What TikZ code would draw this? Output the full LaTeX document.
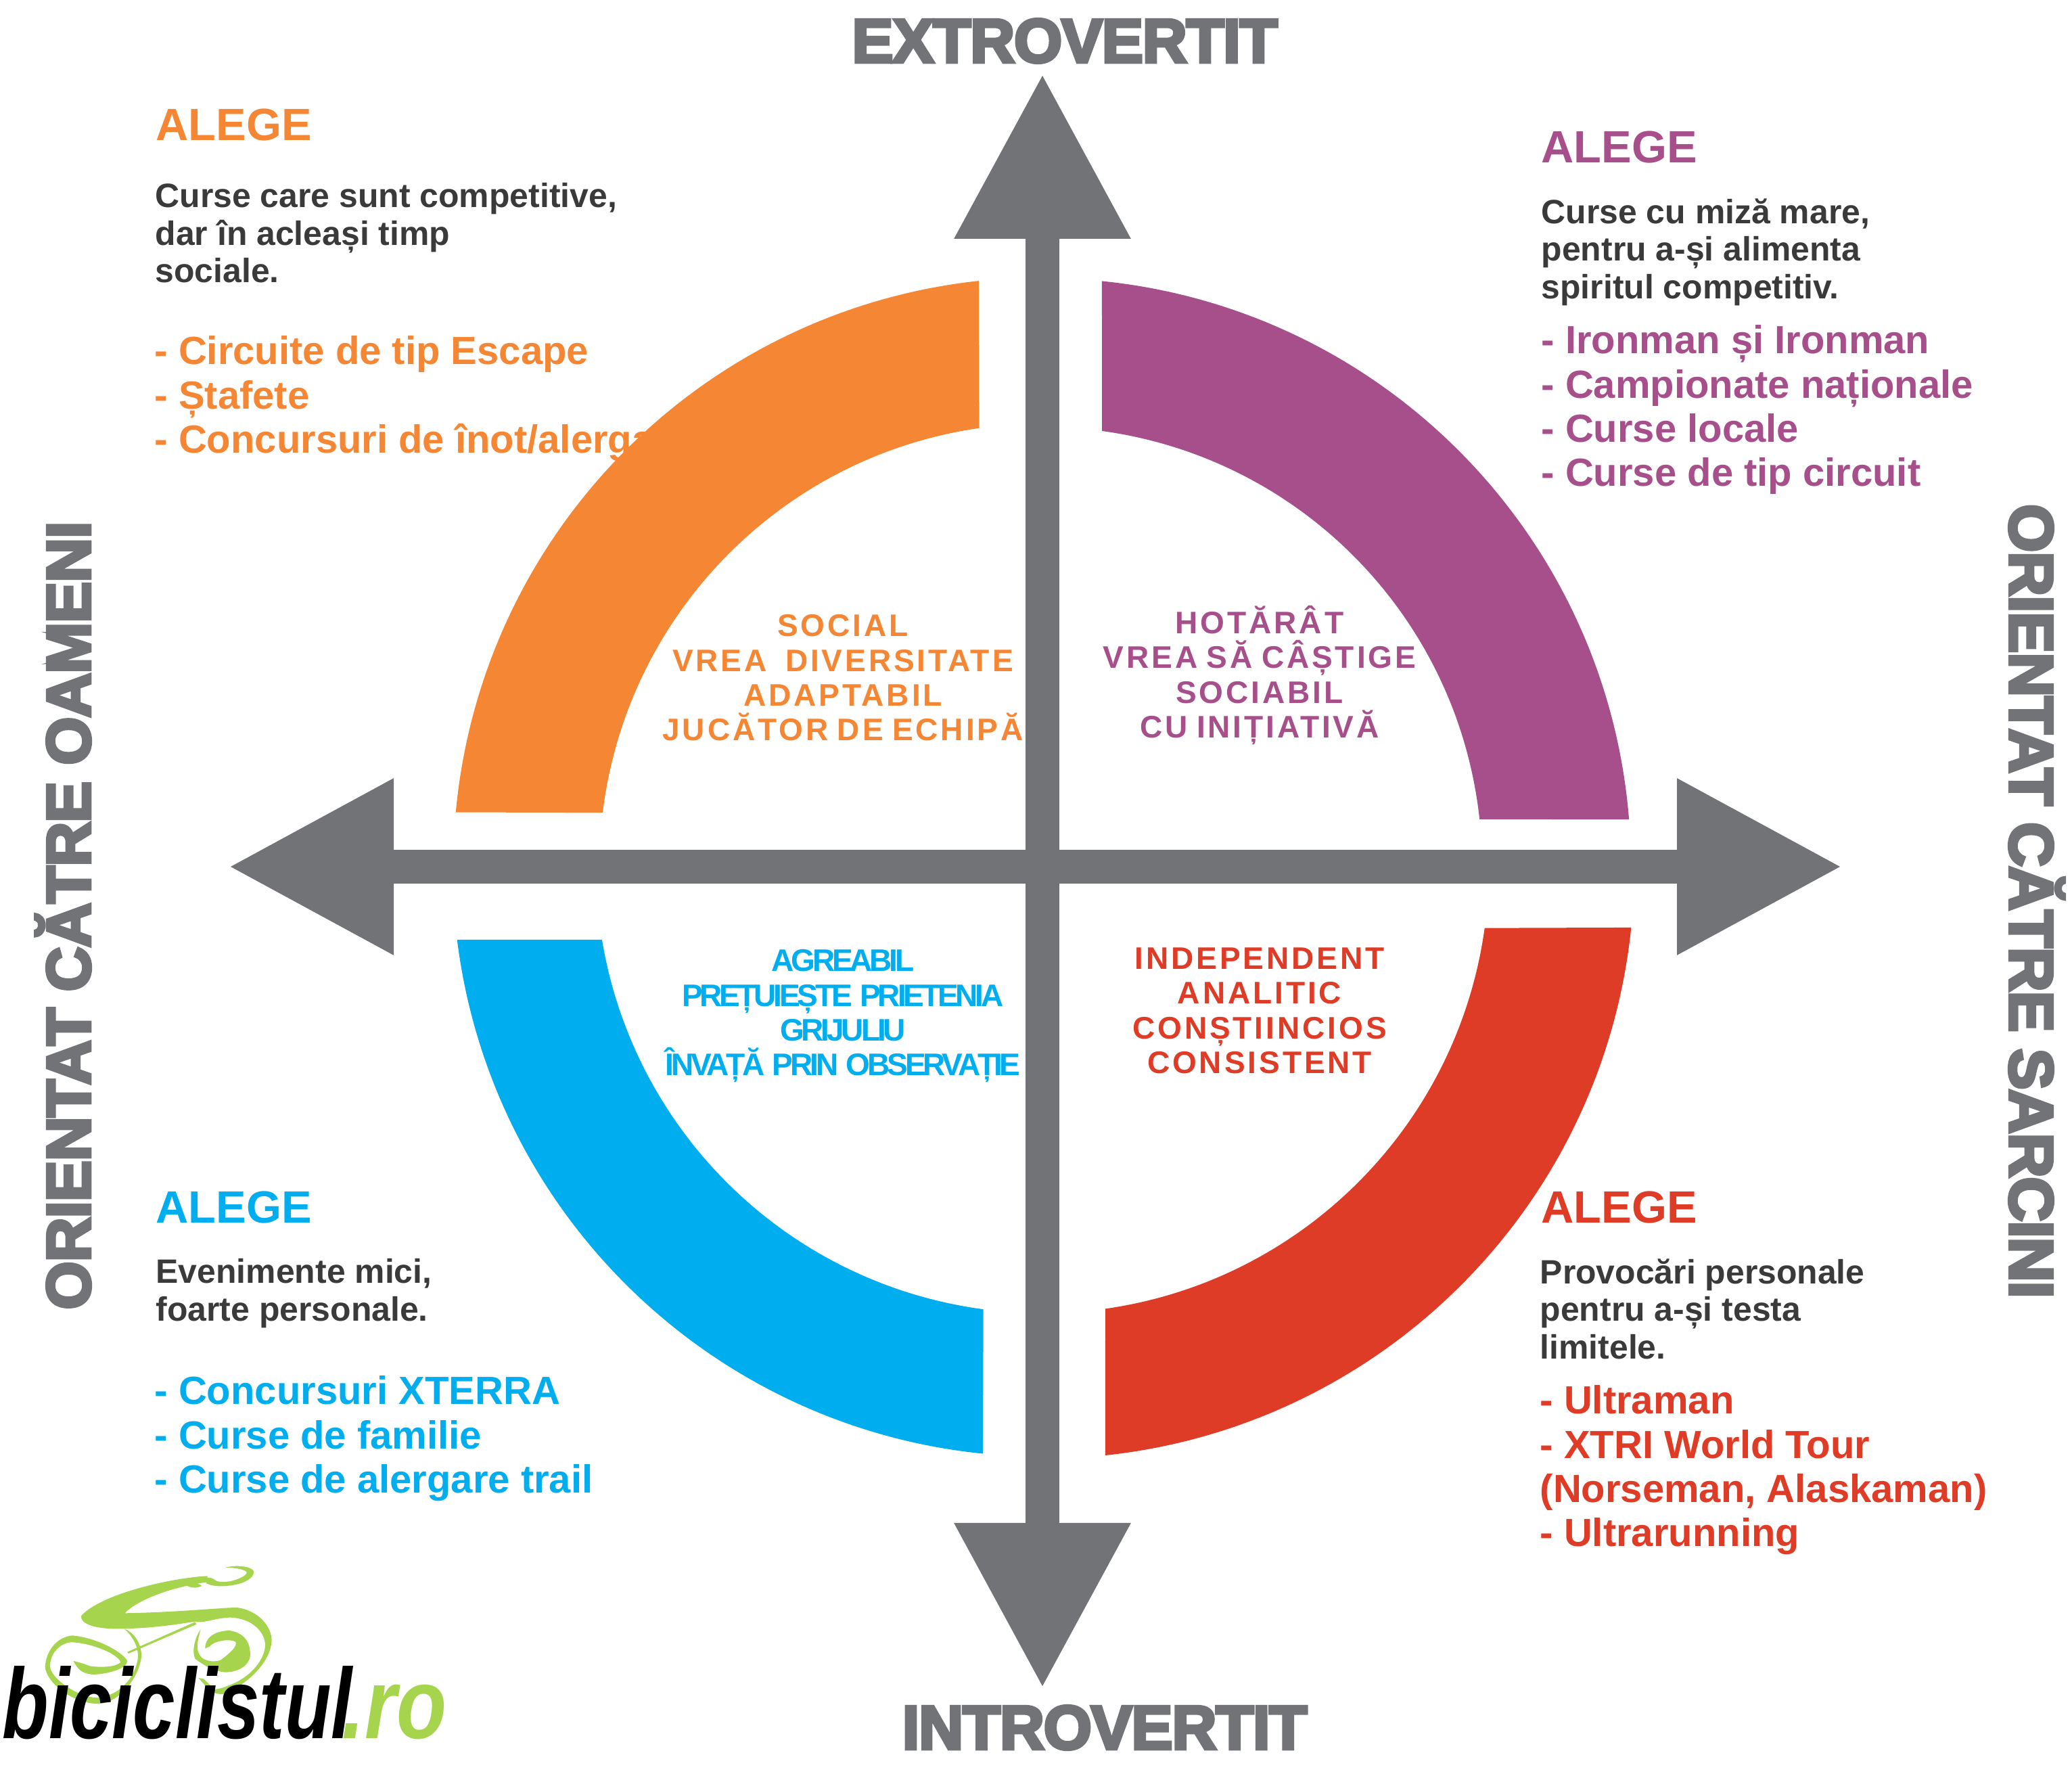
\documentclass[tikz,border=0pt]{standalone}
\usepackage{fontspec}
\setmainfont{Liberation Sans}
\newfontfamily\heavyfont{Liberation Sans Bold}[FakeBold=5,LetterSpace=-1.2]
\newfontfamily\spreadfont{Liberation Sans Bold}[LetterSpace=8.5,WordSpace=0.8]
\newfontfamily\tightfont{Liberation Sans Bold}[LetterSpace=-9,WordSpace=1.3]
\usetikzlibrary{arrows.meta,calc}
\definecolor{axisgray}{HTML}{717376}
\definecolor{bodygray}{HTML}{3A3A3A}
\definecolor{socialorange}{HTML}{F58634}
\definecolor{drivepurple}{HTML}{A64F8B}
\definecolor{careblue}{HTML}{00AEEF}
\definecolor{taskred}{HTML}{DE3C27}
\definecolor{logogreen}{HTML}{A6D44D}
\tikzset{
  axisline/.style={axisgray, line width=0.5cm, {Triangle[length=2.44cm,width=2.47cm]}-{Triangle[length=2.44cm,width=2.47cm]}},
  axislabel/.style={axisgray, inner sep=0pt, font=\heavyfont\fontsize{26}{30}\selectfont},
  alegehead/.style={anchor=north west, inner sep=0pt, font=\bfseries\fontsize{19}{22}\selectfont},
  bodytext/.style={anchor=north west, inner sep=0pt, align=left, text=bodygray, font=\bfseries\fontsize{14.2}{15.8}\selectfont},
  listtext/.style={anchor=north west, inner sep=0pt, align=left, font=\bfseries\fontsize{16.5}{18.6}\selectfont},
  traitspread/.style={inner sep=0pt, align=center, font=\spreadfont\fontsize{13.1}{14.6}\selectfont},
  traittight/.style={inner sep=0pt, align=center, font=\tightfont\fontsize{13.1}{14.6}\selectfont}
}
\begin{document}
\begin{tikzpicture}
    \useasboundingbox (0,0) rectangle (30.63,26.21);

    % Axis end points
    \coordinate (center) at (15.41,13.40);
    \coordinate (tipN) at (15.41,25.12);
    \coordinate (tipS) at (15.41,1.26);
    \coordinate (tipW) at (3.38,13.40);
    \coordinate (tipE) at (27.23,13.40);

    % Orange corner (the band lies over the end of the last line)
    \node[alegehead, text=socialorange] (headO) at (2.30,24.61) {ALEGE};
    \node[bodytext] (bodyO) at (2.29,23.51) {Curse care sunt competitive,\\dar în acleași timp\\sociale.};
    \node[listtext, text=socialorange] (listO) at (2.28,21.25) {- Circuite de tip Escape\\- Ștafete\\- Concursuri de înot/alergare};

    % Purple corner
    \node[alegehead, text=drivepurple] (headP) at (22.78,24.28) {ALEGE};
    \node[bodytext] (bodyP) at (22.78,23.28) {Curse cu miză mare,\\pentru a-și alimenta\\spiritul competitiv.};
    \node[listtext, text=drivepurple] (listP) at (22.78,21.41) {- Ironman și Ironman\\- Campionate naționale\\- Curse locale\\- Curse de tip circuit};

    % Blue corner
    \node[alegehead, text=careblue] (headB) at (2.30,8.61) {ALEGE};
    \node[bodytext] (bodyB) at (2.30,7.61) {Evenimente mici,\\foarte personale.};
    \node[listtext, text=careblue] (listB) at (2.28,5.88) {- Concursuri XTERRA\\- Curse de familie\\- Curse de alergare trail};

    % Red corner
    \node[alegehead, text=taskred] (headR) at (22.78,8.61) {ALEGE};
    \node[bodytext] (bodyR) at (22.76,7.61) {Provocări personale\\pentru a-și testa\\limitele.};
    \node[listtext, text=taskred] (listR) at (22.76,5.74) {- Ultraman\\- XTRI World Tour\\(Norseman, Alaskaman)\\- Ultrarunning};

    % Bands: colour/outer radius/outer start/outer end/inner radius/inner start/inner end
    \foreach \col/\Rout/\aOut/\bOut/\Rin/\aIn/\bIn in {
      socialorange/8.71/96.2/174.7/6.55/173/98.2,
      drivepurple/8.70/84.2/4.6/6.50/6.2/82.2,
      careblue/8.72/187.1/264.2/6.60/262.4/189.4,
      taskred/8.75/-5.9/-83.9/6.60/-81.9/-7.9} 
      {
      \fill[\col] ($(center)+(\aOut:\Rout)$) arc[start angle=\aOut, end angle=\bOut, radius=\Rout]
        -- ($(center)+(\aIn:\Rin)$) arc[start angle=\aIn, end angle=\bIn, radius=\Rin] -- cycle;
    }

    % Axes
    \draw[axisline] (tipW) -- (tipE);
    \draw[axisline] (tipS) -- (tipN);

    % Axis labels
    \node[axislabel, anchor=base] (labelN) at (15.74,25.29) {EXTROVERTIT};
    \node[axislabel, anchor=base] (labelS) at (16.33,0.36) {INTROVERTIT};
    \node[axislabel, anchor=base, rotate=90] (labelW) at (1.33,12.68) {ORIENTAT CĂTRE OAMENI};
    \node[axislabel, anchor=base, rotate=-90] (labelE) at (29.71,12.89) {ORIENTAT CĂTRE SARCINI};

    % Traits
    \node[traitspread, text=socialorange] (traitO) at (12.46,16.19) {SOCIAL\\VREA\hspace{0.3em} DIVERSITATE\\ADAPTABIL\\JUCĂTOR DE ECHIPĂ};
    \node[traitspread, text=drivepurple] (traitP) at (18.62,16.23) {HOTĂRÂT\\VREA SĂ CÂȘTIGE\\SOCIABIL\\CU INIȚIATIVĂ};
    \node[traittight, text=careblue] (traitB) at (12.46,11.19) {AGREABIL\\PREȚUIEȘTE PRIETENIA\\GRIJULIU\\ÎNVAȚĂ PRIN OBSERVAȚIE};
    \node[traitspread, text=taskred] (traitR) at (18.62,11.27) {INDEPENDENT\\ANALITIC\\CONȘTIINCIOS\\CONSISTENT};

    % Logo: rider, traced in the pixels of a crop at three times its size
    \begin{scope}[shift={(0.40,3.21)}, x=0.03333mm, y=-0.03333mm, logogreen]
      % body, arm and outer ring of the front wheel
      \fill (800,88) .. controls (650,95) and (330,165) .. (240,265)
        .. controls (235,300) and (300,325) .. (420,322)
        .. controls (550,320) and (650,305) .. (745,290)
        .. controls (780,300) and (830,275) .. (900,272)
        .. controls (1000,275) and (1060,340) .. (1056,400)
        .. controls (1050,470) and (980,545) .. (890,575)
        .. controls (860,590) and (830,590) .. (810,595)
        .. controls (830,610) and (850,612) .. (870,612)
        .. controls (970,575) and (1085,470) .. (1085,370)
        .. controls (1080,290) and (1000,235) .. (930,228)
        .. controls (870,228) and (650,250) .. (435,253)
        .. controls (450,230) and (560,150) .. (800,115) -- cycle;
      \fill (760,540) -- (785,545) -- (830,590) -- (810,596) -- cycle;
      % inner ring of the front wheel
      \fill (790,410) .. controls (790,350) and (850,330) .. (900,330)
        .. controls (980,345) and (990,400) .. (990,440)
        .. controls (985,490) and (930,515) .. (880,515)
        .. controls (820,510) and (780,480) .. (745,455)
        .. controls (730,420) and (745,360) .. (770,325)
        .. controls (755,380) and (745,420) .. (775,450)
        .. controls (800,470) and (840,470) .. (860,460)
        .. controls (900,430) and (935,400) .. (925,380)
        .. controls (900,365) and (830,375) .. (810,400) -- cycle;
      % head
      \fill (795,120) .. controls (830,140) and (900,135) .. (950,120)
        .. controls (990,105) and (1010,85) .. (1005,65)
        .. controls (990,45) and (930,38) .. (880,50)
        .. controls (930,52) and (975,60) .. (975,75)
        .. controls (960,100) and (880,125) .. (840,110)
        .. controls (825,100) and (820,95) .. (800,95) -- cycle;
      \fill (705,128) .. controls (740,118) and (770,122) .. (775,132)
        .. controls (750,145) and (720,140) .. (705,128) -- cycle;
      % frame
      \fill (445,425) -- (745,292) -- (752,302) -- (450,432) -- cycle;
      % rear wheel
      \fill (205,465) .. controls (225,500) and (240,520) .. (290,525)
        .. controls (350,525) and (445,500) .. (445,465)
        .. controls (420,420) and (300,360) .. (200,352)
        .. controls (130,360) and (85,420) .. (80,490)
        .. controls (85,560) and (200,655) .. (320,655)
        .. controls (420,645) and (500,530) .. (508,440)
        .. controls (505,380) and (470,335) .. (430,322)
        .. controls (465,350) and (495,400) .. (492,450)
        .. controls (480,540) and (410,620) .. (310,628)
        .. controls (220,625) and (105,540) .. (102,490)
        .. controls (100,430) and (150,382) .. (200,382)
        .. controls (280,385) and (400,430) .. (415,470)
        .. controls (400,490) and (340,495) .. (280,488)
        .. controls (260,480) and (230,470) .. (205,465) -- cycle;
    \end{scope}
    \node[anchor=base west, inner sep=0pt, font=\bfseries\itshape\fontsize{42}{48}\selectfont, xscale=0.76, transform shape] (logoName) at (0.03,0.52) {biciclistul};
    \node[anchor=base west, inner sep=0pt, text=logogreen, font=\bfseries\itshape\fontsize{42}{48}\selectfont, xscale=0.82, transform shape] (logoDomain) at (5.05,0.52) {.ro};
\end{tikzpicture}
\end{document}
